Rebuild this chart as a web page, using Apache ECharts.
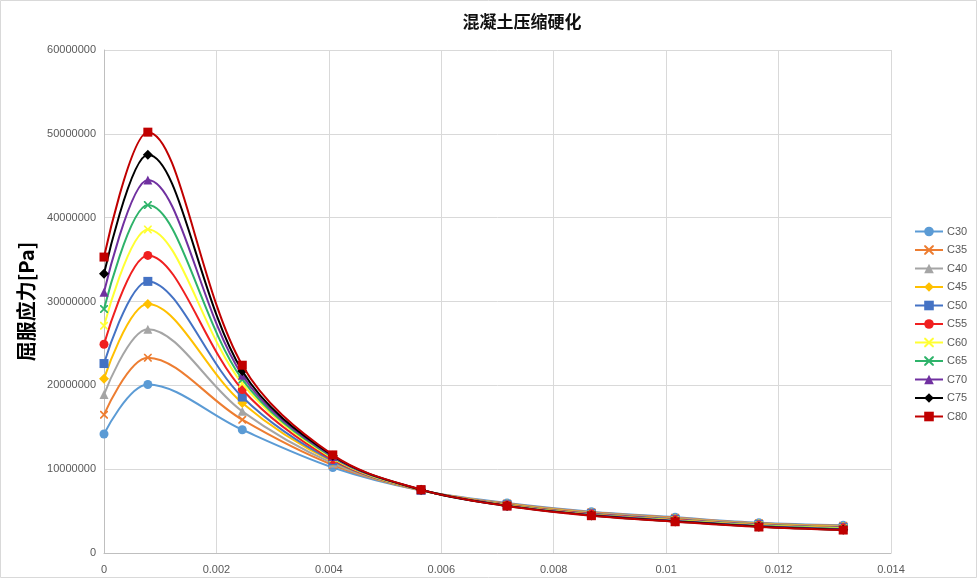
<!DOCTYPE html>
<html>
<head>
<meta charset="utf-8">
<script src="https://cdn.jsdelivr.net/npm/echarts@6/dist/echarts.min.js"></script>
<style>
html,body{margin:0;padding:0;background:#fff;}
#chart{width:977px;height:578px;}
</style>
</head>
<body>
<div id="chart"></div>
<script>
// Strain values (x)
var strain = [0, 0.00078, 0.00246, 0.00407, 0.00564, 0.00717, 0.00867, 0.01016, 0.01165, 0.01315];

// Yield stress [Pa] per concrete grade
var C30 = [14200000, 20100000, 14700000, 10200000, 7450000, 5960000, 4930000, 4260000, 3610000, 3300000];
var C35 = [16500000, 23300000, 15900000, 10500000, 7470000, 5900000, 4860000, 4200000, 3560000, 3240000];
var C40 = [18900000, 26700000, 16900000, 10700000, 7480000, 5850000, 4800000, 4140000, 3500000, 3180000];
var C45 = [20800000, 29700000, 17900000, 10900000, 7490000, 5810000, 4750000, 4080000, 3450000, 3120000];
var C50 = [22600000, 32400000, 18600000, 11000000, 7500000, 5770000, 4700000, 4020000, 3400000, 3060000];
var C55 = [24900000, 35500000, 19500000, 11150000, 7510000, 5740000, 4650000, 3960000, 3350000, 3000000];
var C60 = [27100000, 38600000, 20200000, 11300000, 7520000, 5710000, 4600000, 3910000, 3300000, 2940000];
var C65 = [29100000, 41500000, 20700000, 11400000, 7530000, 5680000, 4560000, 3860000, 3240000, 2880000];
var C70 = [31100000, 44500000, 21200000, 11500000, 7540000, 5650000, 4520000, 3820000, 3190000, 2830000];
var C75 = [33300000, 47500000, 21700000, 11600000, 7550000, 5620000, 4480000, 3770000, 3140000, 2780000];
var C80 = [35300000, 50200000, 22400000, 11700000, 7560000, 5600000, 4450000, 3730000, 3100000, 2740000];

var seriesNames = ['C30','C35','C40','C45','C50','C55','C60','C65','C70','C75','C80'];
var seriesValues = [C30,C35,C40,C45,C50,C55,C60,C65,C70,C75,C80];

var xTicks = ['0','0.002','0.004','0.006','0.008','0.01','0.012','0.014'];
var yTicks = ['0','10000000','20000000','30000000','40000000','50000000','60000000'];

var colors = ['#5B9BD5','#ED7D31','#A5A5A5','#FFC000','#4472C4','#F02020','#FFFF33','#2EB36A','#7030A0','#000000','#C00000'];
var xPath = 'path://M0,0 L3,0 L10,7 L17,0 L20,0 L20,3 L13,10 L20,17 L20,20 L17,20 L10,13 L3,20 L0,20 L0,17 L7,10 L0,3 Z';
var symbols = ['circle', xPath, 'triangle', 'diamond', 'rect', 'circle', xPath, xPath, 'triangle', 'diamond', 'rect'];
var sizes = [9, 8, 9, 10, 9, 9, 8, 8, 9, 10, 9];

var series = seriesNames.map(function(n, i){
  return {
    name: n,
    type: 'line',
    smooth: 0.35,
    symbol: symbols[i],
    symbolSize: sizes[i],
    showAllSymbol: true,
    z: 2 + i,
    lineStyle: {color: colors[i], width: 2},
    itemStyle: {color: colors[i], borderColor: colors[i], borderWidth: 0},
    data: strain.map(function(x, j){ return [x, seriesValues[i][j]]; })
  };
});

var chart = echarts.init(document.getElementById('chart'));
chart.setOption({
  animation: false,
  backgroundColor: '#fff',
  color: colors,
  title: {
    text: '混凝土压缩硬化',
    left: 517, top: 8, textAlign: 'center',
    textStyle: {fontFamily: 'Noto Sans CJK SC', fontSize: 17, fontWeight: 'bold', color: '#111'}
  },
  graphic: [{
    type: 'rect', silent: true,
    shape: {x: 0.5, y: 0.5, width: 976, height: 577},
    style: {fill: 'none', stroke: '#d9d9d9', lineWidth: 1}
  }],
  legend: {
    orient: 'vertical',
    left: 909, top: 221,
    itemWidth: 28, itemHeight: 12, itemGap: 7.5,
    textStyle: {fontFamily: 'Liberation Sans', fontSize: 11, color: '#595959', padding: [0,0,0,-1]},
    data: seriesNames
  },
  grid: {left: 104, right: 86, top: 50, bottom: 25, containLabel: false},
  xAxis: {
    type: 'value', min: 0, max: 0.014, interval: 0.002,
    axisLine: {show: true, lineStyle: {color: '#bfbfbf'}},
    axisTick: {show: false},
    splitLine: {show: true, lineStyle: {color: '#d9d9d9'}},
    axisLabel: {
      margin: 11, fontFamily: 'Liberation Sans', fontSize: 11, color: '#595959',
      formatter: function(v){ var i = Math.round(v/0.002); return xTicks[i]; }
    }
  },
  yAxis: {
    type: 'value', min: 0, max: 60000000, interval: 10000000,
    name: '屈服应力[Pa]', nameLocation: 'middle', nameGap: 60, nameRotate: 90,
    nameTextStyle: {fontFamily: 'Noto Sans CJK SC', fontSize: 20, fontWeight: 'bold', color: '#000'},
    axisLine: {show: true, lineStyle: {color: '#bfbfbf'}},
    axisTick: {show: false},
    splitLine: {show: true, lineStyle: {color: '#d9d9d9'}},
    axisLabel: {
      margin: 8, fontFamily: 'Liberation Sans', fontSize: 11, color: '#595959',
      formatter: function(v){ var i = Math.round(v/10000000); return yTicks[i]; }
    }
  },
  series: series
});
</script>
</body>
</html>
